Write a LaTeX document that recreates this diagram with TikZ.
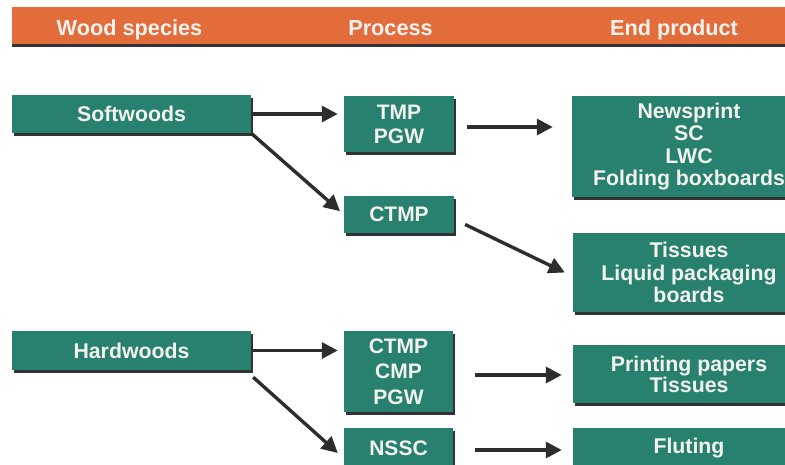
\documentclass[tikz,border=0pt]{standalone}
\usepackage{fontspec}
\setmainfont{Liberation Sans}
\usetikzlibrary{arrows.meta,shadows}
\definecolor{teal1}{RGB}{40,128,110}
\definecolor{orange1}{RGB}{226,108,58}
\definecolor{shadowgray}{RGB}{50,50,50}
\definecolor{txt}{RGB}{242,242,238}
\definecolor{arrowgray}{RGB}{45,45,45}
\begin{document}
\begin{tikzpicture}[x=1pt,y=-1pt,
  box/.style={fill=teal1, text=txt, inner sep=0pt, align=center,
    font=\fontsize{21.3}{22.5}\selectfont\bfseries,
    drop shadow={shadow xshift=2pt, shadow yshift=-2.5pt, fill=shadowgray, opacity=1}},
  headbar/.style={fill=orange1, inner sep=0pt, anchor=north west,
    drop shadow={shadow xshift=0pt, shadow yshift=-3pt, fill=shadowgray, opacity=1}},
  head/.style={text=txt, font=\fontsize{21.7}{24}\selectfont\bfseries, anchor=base, inner sep=0pt},
  arr/.style={draw=arrowgray, line width=3.4pt, -{Triangle[length=16pt,width=16pt]}}
]
\clip (0,0) rectangle (785,464);
% header
\node[headbar, minimum width=790pt, minimum height=37pt] (header) at (12,7) {};
\node[head] (h1) at (129.5,35) {Wood species};
\node[head] (h2) at (390.5,35) {Process};
\node[head] (h3) at (674,35) {End product};
% boxes
\node[box, minimum width=239pt, minimum height=38pt] (soft) at (131.5,114) {Softwoods};
\node[box, minimum width=110pt, minimum height=56pt, font=\fontsize{21}{24}\selectfont\bfseries] (tmp) at (399,124) {TMP\\PGW};
\node[box, minimum width=110pt, minimum height=37pt, font=\fontsize{21}{24}\selectfont\bfseries] (ctmp) at (399,214.5) {CTMP};
\node[box, minimum width=234pt, minimum height=101pt] (news) at (689,146.5) {Newsprint\\SC\\LWC\\Folding boxboards};
\node[box, minimum width=232pt, minimum height=79pt] (tiss) at (689,272.5) {Tissues\\Liquid packaging\\boards};
\node[box, minimum width=239pt, minimum height=39pt] (hard) at (131.5,350.5) {Hardwoods};
\node[box, minimum width=109pt, minimum height=81pt, font=\fontsize{21}{25.5}\selectfont\bfseries] (cmp) at (398.5,371.5) {CTMP\\CMP\\PGW};
\node[box, minimum width=109pt, minimum height=40pt, font=\fontsize{21}{24}\selectfont\bfseries] (nssc) at (398.5,448) {NSSC};
\node[box, minimum width=232pt, minimum height=58pt, font=\fontsize{21.3}{21}\selectfont\bfseries] (print) at (689,374) {Printing papers\\Tissues};
\node[box, minimum width=232pt, minimum height=40pt] (flut) at (689,448) {Fluting};
% arrow start points
\coordinate (s1) at ([shift={(13,3)}]tmp.east);
\coordinate (s2) at ([shift={(22,3.5)}]cmp.east);
\coordinate (s3) at ([shift={(22,2)}]nssc.east);
% arrows
\draw[arr, shorten >=6pt] (soft.east) -- (soft.east -| tmp.west);
\draw[arr, shorten >=5pt] (soft.south east) -- (ctmp.west);
\draw[arr, shorten >=19pt] (s1) -- (s1 -| news.west);
\draw[arr] ([shift={(11,10)}]ctmp.east) -- ([shift={(-8,0)}]tiss.west);
\draw[arr, shorten >=6pt] (hard.east) -- (hard.east -| cmp.west);
\draw[arr] ([shift={(2,7)}]hard.south east) -- ([shift={(-6,5)}]nssc.west);
\draw[arr, shorten >=11pt] (s2) -- (s2 -| print.west);
\draw[arr, shorten >=11pt] (s3) -- (s3 -| flut.west);
\end{tikzpicture}
\end{document}
